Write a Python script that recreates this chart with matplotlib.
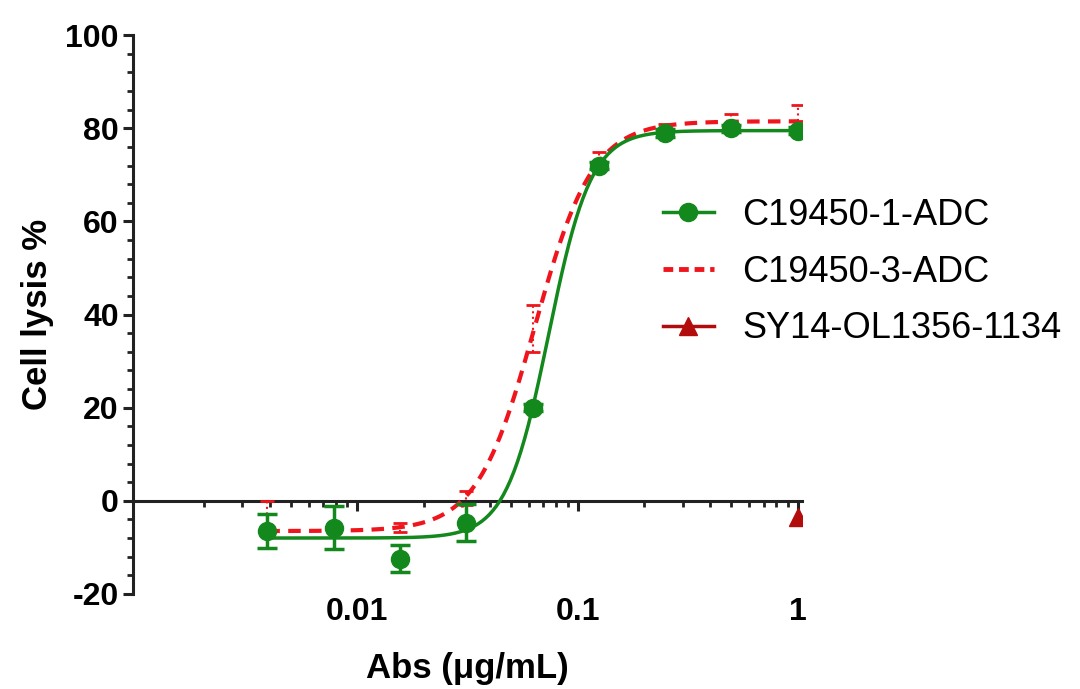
import numpy as np
import matplotlib.pyplot as plt
from matplotlib.ticker import FixedLocator, MultipleLocator, LogLocator, NullFormatter

plt.rcParams['font.family'] = ['Liberation Sans', 'DejaVu Sans']
plt.rcParams['axes.unicode_minus'] = False

# doses (ug/mL), 2-fold dilution
doses = [0.0039, 0.0078, 0.0156, 0.03125, 0.0625, 0.125, 0.25, 0.5, 1.0]

# C19450-1-ADC
adc1_mean = [-6.5, -5.8, -12.4, -4.7, 20.0, 72.0, 79.0, 80.0, 79.5]
adc1_err = [3.7, 4.6, 3.0, 4.0, 0.8, 0.8, 0.8, 0.8, 0.8]
# 4PL fit (bottom, top, EC50, hill)
adc1_fit = (-8.0, 79.5, 0.0739, 4.5)

# C19450-3-ADC
adc3_mean = [-6.5, -6.5, -5.8, 0.5, 37.0, 74.0, 80.0, 81.0, 82.0]
adc3_err_lo = [0.0, 0.5, 1.0, 1.5, 5.0, 1.0, 1.0, 2.0, 0.5]
adc3_err_hi = [6.5, 0.5, 1.0, 1.5, 5.0, 1.0, 1.0, 2.0, 3.0]
adc3_fit = (-6.5, 81.5, 0.064, 3.3)

# SY14-OL1356-1134
ctrl_dose = [1.0]
ctrl_mean = [-3.5]

green = '#13881c'
red = '#f0141c'
darkred = '#b30c0c'


def four_pl(x, p):
    bottom, top, ec50, hill = p
    return bottom + (top - bottom) / (1 + (ec50 / x) ** hill)


fig = plt.figure(figsize=(10.8, 6.89), dpi=100)
ax = fig.add_axes([0.123, 0.138, 0.62, 0.811])

xs = np.logspace(np.log10(doses[0]), np.log10(doses[-1]), 300)

# red series: dashed fit + dotted error bars
ax.plot(xs, four_pl(xs, adc3_fit), color=red, lw=3, dashes=(3, 2), zorder=3)
eb = ax.errorbar(doses, adc3_mean, yerr=[adc3_err_lo, adc3_err_hi], fmt='none',
                 ecolor=red, elinewidth=1.5, capsize=5, capthick=2, zorder=3)
eb[2][0].set_linestyle(':')

# green series
ax.plot(xs, four_pl(xs, adc1_fit), color=green, lw=2.5, zorder=4)
ax.errorbar(doses, adc1_mean, yerr=adc1_err, fmt='o', color=green, ms=13,
            elinewidth=2.5, capsize=7, capthick=2.5, zorder=5)

# control
ax.plot(ctrl_dose, ctrl_mean, marker='^', color=darkred, ms=13, lw=2.5,
        zorder=6)

# legend handles
h1, = ax.plot([], [], color=green, marker='o', ms=13, lw=2.5)
h2, = ax.plot([], [], color=red, lw=3.5, dashes=(2, 1.2))
h3, = ax.plot([], [], color=darkred, marker='^', ms=13, lw=2.5)
ax.legend([h1, h2, h3], ['C19450-1-ADC', 'C19450-3-ADC', 'SY14-OL1356-1134'],
          loc='center left', bbox_to_anchor=(0.614, 0.605),
          bbox_transform=fig.transFigure, frameon=False, fontsize=26,
          handlelength=1.4, handletextpad=0.8, labelspacing=0.6,
          borderpad=0, borderaxespad=0)

ax.set_xscale('log')
ax.set_xlim(0.000955, 1.05)
ax.set_ylim(-20, 100)

ax.spines['top'].set_visible(False)
ax.spines['right'].set_visible(False)
ax.spines['bottom'].set_position(('data', 0))
for s in ('left', 'bottom'):
    ax.spines[s].set_linewidth(2.2)
    ax.spines[s].set_color('#222222')

ax.xaxis.set_major_locator(FixedLocator([0.01, 0.1, 1]))
ax.set_xticklabels(['0.01', '0.1', '1'])
ax.xaxis.set_minor_locator(LogLocator(base=10, subs=np.arange(2, 10)))
ax.xaxis.set_minor_formatter(NullFormatter())
ax.yaxis.set_major_locator(MultipleLocator(20))
ax.yaxis.set_minor_locator(MultipleLocator(4))

ax.tick_params(axis='both', which='major', length=7, width=2.2,
               color='#222222', labelsize=23)
ax.tick_params(axis='both', which='minor', length=4, width=2.0,
               color='#222222')
ax.tick_params(axis='x', which='major', pad=62)
ax.tick_params(axis='y', which='major', pad=3)
for lab in ax.get_xticklabels() + ax.get_yticklabels():
    lab.set_fontweight('bold')

ax.set_xlabel('Abs (μg/mL)', fontsize=25, fontweight='bold', labelpad=18)
ax.set_ylabel('Cell lysis %', fontsize=25, fontweight='bold', labelpad=8)

fig.savefig('out.png', dpi=100)
